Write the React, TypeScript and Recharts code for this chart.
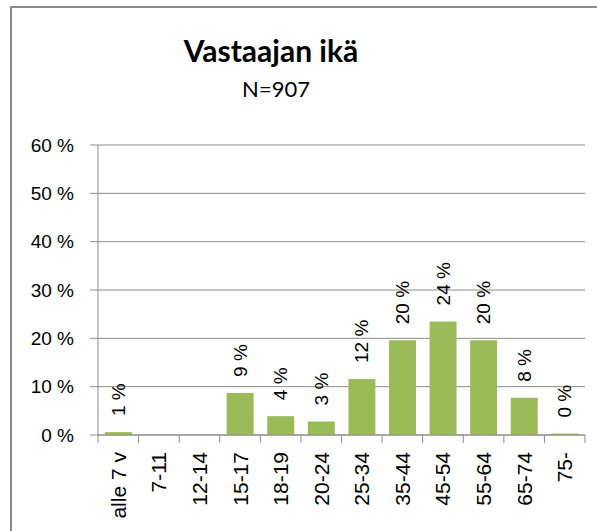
import { BarChart, Bar, XAxis, YAxis, CartesianGrid, LabelList } from "recharts";

const ageGroups = ["alle 7 v", "7-11", "12-14", "15-17", "18-19", "20-24", "25-34", "35-44", "45-54", "55-64", "65-74", "75-"];
const shares = [0.6, 0, 0, 8.7, 3.9, 2.8, 11.6, 19.6, 23.5, 19.6, 7.7, 0.3];
const yTicks = [0, 10, 20, 30, 40, 50, 60];

const data = ageGroups.map((age, i) => ({ age, share: shares[i] }));

const axisFont = "'Liberation Sans', Arial, sans-serif";
const gray = "#8c8c8c";

function CategoryTick(props: any) {
  const { x, y, payload, index } = props;
  const half = payload?.offset || 20.3;
  return (
    <g>
      <line x1={x - half} x2={x - half} y1={y - 8} y2={y} stroke={gray} strokeWidth={1} />
      {index === ageGroups.length - 1 && (
        <line x1={x + half} x2={x + half} y1={y - 8} y2={y} stroke={gray} strokeWidth={1} />
      )}
      <text
        x={x}
        y={452}
        transform={`rotate(-90, ${x}, 452)`}
        textAnchor="end"
        dominantBaseline="central"
        fontSize={21}
        fontFamily={axisFont}
        fill="#000"
      >
        {payload.value}
      </text>
    </g>
  );
}

function ValueLabel(props: any) {
  const { x, y, width, value } = props;
  const cx = x + width / 2;
  const ty = y - 16;
  return (
    <text
      x={cx}
      y={ty}
      transform={`rotate(-90, ${cx}, ${ty})`}
      textAnchor="start"
      dominantBaseline="central"
      fontSize={19}
      fontFamily={axisFont}
      fill="#000"
    >
      {`${Math.round(value)} %`}
    </text>
  );
}

export default function App() {
  return (
    <div style={{ position: "absolute", left: 0, top: 0, width: 597, height: 531, overflow: "hidden", background: "#fff" }}>
      <div
        style={{
          position: "absolute",
          left: 10,
          top: 6,
          width: 620,
          height: 560,
          border: "2px solid #8a8a8a",
        }}
      />
      <div
        style={{
          position: "absolute",
          left: 0,
          width: 542,
          top: 32,
          textAlign: "center",
          fontFamily: "Lato, 'Open Sans', sans-serif",
          fontWeight: 700,
          fontSize: 30,
          lineHeight: "36px",
          color: "#000",
        }}
      >
        Vastaajan ikä
      </div>
      <div
        style={{
          position: "absolute",
          left: 0,
          width: 552,
          top: 74,
          textAlign: "center",
          fontFamily: "Lato, 'Open Sans', sans-serif",
          fontSize: 22,
          lineHeight: "30px",
          color: "#000",
        }}
      >
        N=907
      </div>
      <div style={{ position: "absolute", left: 0, top: 0 }}>
        <BarChart
          width={597}
          height={531}
          data={data}
          margin={{ top: 145, right: 12, bottom: 0, left: 0 }}
          barCategoryGap="17%"
        >
          <CartesianGrid vertical={false} stroke={gray} strokeWidth={1} />
          <XAxis
            dataKey="age"
            height={96}
            interval={0}
            axisLine={{ stroke: gray }}
            tickLine={false}
            tick={<CategoryTick />}
          />
          <YAxis
            width={98}
            domain={[0, 60]}
            ticks={yTicks}
            interval={0}
            tickFormatter={(v: number) => `${v} %`}
            axisLine={{ stroke: gray }}
            tickLine={{ stroke: gray }}
            tickSize={8}
            tickMargin={16}
            tick={{ fontSize: 19, fontFamily: axisFont, fill: "#000" }}
          />
          <Bar dataKey="share" fill="#9bbb59" isAnimationActive={false}>
            <LabelList dataKey="share" content={<ValueLabel />} />
          </Bar>
        </BarChart>
      </div>
    </div>
  );
}
